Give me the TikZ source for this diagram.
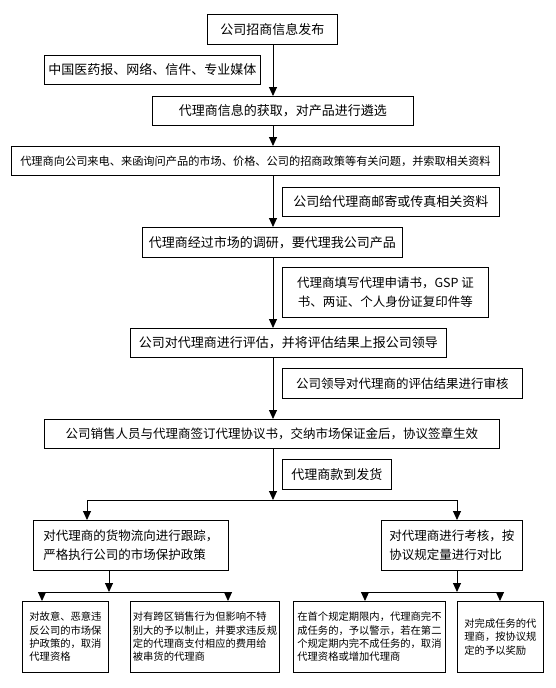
\documentclass[tikz,border=0pt]{standalone}
\usepackage{fontspec}
\setmainfont{Noto Sans CJK SC}
\usetikzlibrary{arrows.meta}
\begin{document}
\begin{tikzpicture}[x=1pt,y=-1pt,
  box/.style={draw=black, line width=0.9pt, inner sep=0pt, anchor=north west, align=center},
  ftA/.style={font=\fontsize{13}{15}\selectfont},
  ftB/.style={font=\fontsize{12.5}{19}\selectfont},
  ftC/.style={font=\fontsize{11.2}{14}\selectfont},
  ftD/.style={font=\fontsize{10.3}{13.3}\selectfont},
  arr/.style={line width=0.9pt, -{Triangle[width=8pt,length=9pt]}},
  ln/.style={line width=0.9pt}]
\fill[white] (0,0) rectangle (555,688);
\useasboundingbox (0,0) rectangle (555,688);
% main boxes
\node[box,ftA,minimum width=130,minimum height=30] (b1) at (207,14) {公司招商信息发布};
\node[box,ftA,minimum width=216,minimum height=29] (m1) at (44,55) {中国医药报、网络、信件、专业媒体};
\node[box,ftA,minimum width=261,minimum height=29] (b2) at (152,96) {代理商信息的获取，对产品进行遴选};
\node[box,ftC,minimum width=488,minimum height=29] (b3) at (11,146) {代理商向公司来电、来函询问产品的市场、价格、公司的招商政策等有关问题，并索取相关资料};
\node[box,ftA,minimum width=217,minimum height=29] (m2) at (282,187) {公司给代理商邮寄或传真相关资料};
\node[box,ftA,minimum width=260,minimum height=30] (b4) at (142,227) {代理商经过市场的调研，要代理我公司产品};
\node[box,ftB,minimum width=206,minimum height=50] (m3) at (282,267) {代理商填写代理申请书，GSP 证\\书、两证、个人身份证复印件等};
\node[box,ftA,minimum width=316,minimum height=29] (b5) at (130,328) {公司对代理商进行评估，并将评估结果上报公司领导};
\node[box,ftB,minimum width=240,minimum height=30] (m4) at (282,368) {公司领导对代理商的评估结果进行审核};
\node[box,ftB,minimum width=455,minimum height=29] (b6) at (44,419) {公司销售人员与代理商签订代理协议书，交纳市场保证金后，协议签章生效};
\node[box,ftA,minimum width=109,minimum height=30] (m5) at (282,459) {代理商款到发货};
% second level
\node[box,ftB,align=left,minimum width=195,minimum height=50] (l1) at (33,520) {对代理商的货物流向进行跟踪，\\严格执行公司的市场保护政策};
\node[box,ftB,align=left,minimum width=141,minimum height=50] (r1) at (381,520) {对代理商进行考核，按\\协议规定量进行对比};
% bottom boxes
\node[box,ftD,align=left,minimum width=86,minimum height=71] (bb1) at (22,601) {对故意、恶意违\\反公司的市场保\\护政策的，取消\\代理资格};
\node[box,ftD,align=left,minimum width=149,minimum height=71] (bb2) at (130,601) {对有跨区销售行为但影响不特\\别大的予以制止，并要求违反规\\定的代理商支付相应的费用给\\被串货的代理商};
\node[box,ftD,align=left,minimum width=152,minimum height=71] (bb3) at (293,601) {在首个规定期限内，代理商完不\\成任务的，予以警示，若在第二\\个规定期内完不成任务的，取消\\代理资格或增加代理商};
\node[box,ftD,align=left,minimum width=86,minimum height=71] (bb4) at (457,601) {对完成任务的代\\理商，按协议规\\定的予以奖励};
% spine
\coordinate (sp) at (273,0);
\draw[arr] (b1.south -| sp) -- (b2.north -| sp);
\draw[arr] (b2.south -| sp) -- (b3.north -| sp);
\draw[arr] (b3.south -| sp) -- (b4.north -| sp);
\draw[arr] (b4.south -| sp) -- (b5.north -| sp);
\draw[arr] (b5.south -| sp) -- (b6.north -| sp);
\coordinate (s1) at (273,500);
\coordinate (hl) at (87,500);
\coordinate (hr) at (457,500);
\draw[arr] (b6.south -| sp) -- (s1);
\draw[ln] (hl) -- (hr);
\draw[arr] (hl) -- (l1.north -| hl);
\draw[arr] (hr) -- (r1.north -| hr);
% left split
\coordinate (ls) at (109,592);
\coordinate (lsl) at (42,592);
\coordinate (lsr) at (228,592);
\draw[arr] (l1.south -| ls) -- (ls);
\draw[ln] (lsl) -- (lsr);
\draw[arr] (lsl) -- (bb1.north -| lsl);
\draw[arr] (lsr) -- (bb2.north -| lsr);
% right split
\coordinate (rs) at (457,592);
\coordinate (rsl) at (365,592);
\coordinate (rsr) at (500,592);
\draw[arr] (r1.south -| rs) -- (rs);
\draw[ln] (rsl) -- (rsr);
\draw[arr] (rsl) -- (bb3.north -| rsl);
\draw[arr] (rsr) -- (bb4.north -| rsr);
\end{tikzpicture}
\end{document}
